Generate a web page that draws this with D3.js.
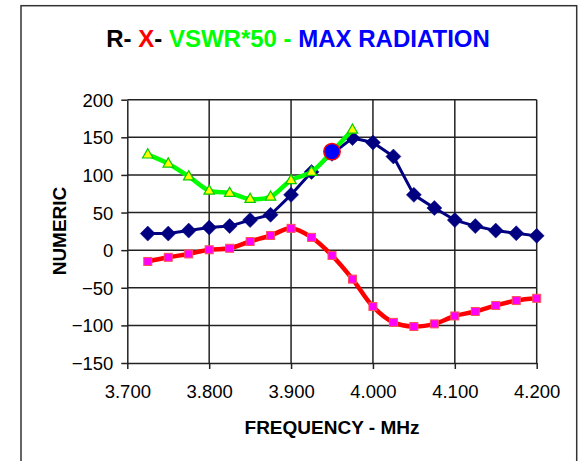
<!DOCTYPE html>
<html>
<head>
<meta charset="utf-8">
<script src="https://cdn.jsdelivr.net/npm/d3@7"></script>
<style>
html,body{margin:0;padding:0;background:#fff;}
svg{display:block;}
text{font-family:Arial,"Liberation Sans",sans-serif;}
</style>
</head>
<body>
<svg id="chart" width="582" height="461"></svg>
<script>
// ---- data ----
const frequencies = [3.725,3.75,3.775,3.8,3.825,3.85,3.875,3.9,3.925,3.95,3.975,4.0,4.025,4.05,4.075,4.1,4.125,4.15,4.175,4.2];
const seriesR = [22,22,26,30,32,40,47,73.5,104,128,149,143,124.5,73.5,56,40,32,26,22.5,19];
const seriesX = [-15,-9.5,-5,0.5,2.5,11.5,19.5,29,17,-7,-38.5,-75,-96,-101.5,-98,-87.5,-81.5,-73.5,-67,-64];
const vswrFreq = [3.725,3.75,3.775,3.8,3.825,3.85,3.875,3.9,3.925,3.95,3.975];
const vswr50 = [127,115,98,79,76,68,71,93,104,131,160];
const maxRadFreq = [3.95];
const maxRadValue = [131];
const xTicks = [3.7,3.8,3.9,4.0,4.1,4.2];
const yTicks = [-150,-100,-50,0,50,100,150,200];

const svg = d3.select("#chart");

// outer frame
svg.append("rect").attr("x",21).attr("y",5.7).attr("width",555.7).attr("height",470)
  .attr("fill","none").attr("stroke","#333").attr("stroke-width",1.5);

const x = d3.scaleLinear().domain([3.7,4.2]).range([127.3,536.7]);
const y = d3.scaleLinear().domain([-150,200]).range([363,99.7]);

// gridlines
const grid = svg.append("g");
grid.selectAll("line.h").data(yTicks.filter(d=>d>-150)).join("line")
  .attr("x1",x(3.7)).attr("x2",x(4.2)).attr("y1",d=>y(d)).attr("y2",d=>y(d))
  .attr("stroke","#222").attr("stroke-width",1.5);
grid.selectAll("line.v").data(xTicks.filter(d=>d>3.7)).join("line")
  .attr("x1",d=>x(d)).attr("x2",d=>x(d)).attr("y1",y(200)).attr("y2",y(-150))
  .attr("stroke","#222").attr("stroke-width",1.5);

// axes
const xAxis = d3.axisBottom(x).tickValues(xTicks).tickFormat(d3.format(".3f")).tickSize(6).tickSizeOuter(0);
const yAxis = d3.axisLeft(y).tickValues(yTicks).tickSize(6).tickSizeOuter(0);
const gx = svg.append("g").attr("transform",`translate(0,${y(-150)})`).call(xAxis);
const gy = svg.append("g").attr("transform",`translate(${x(3.7)},0)`).call(yAxis);
[gx,gy].forEach(g=>{
  g.select(".domain").attr("stroke","#222").attr("stroke-width",1.5);
  g.selectAll(".tick line").attr("stroke","#222").attr("stroke-width",1.5);
  g.selectAll(".tick text").attr("font-family","Arial, 'Liberation Sans', sans-serif")
    .attr("font-size",18.5).attr("fill","#000");
});
gx.selectAll(".tick text").attr("dy",null).attr("y",35);
gy.selectAll(".tick text").attr("x",-14).attr("dy","0.35em");

// lines
const pts = (xs,ys)=>xs.map((f,i)=>[f,ys[i]]);
const lineSmooth = d3.line().x(d=>x(d[0])).y(d=>y(d[1])).curve(d3.curveCatmullRom.alpha(0.5));
const lineStraight = d3.line().x(d=>x(d[0])).y(d=>y(d[1]));

const rData = pts(frequencies,seriesR);
const xData = pts(frequencies,seriesX);
const vData = pts(vswrFreq,vswr50);

// X series (red)
svg.append("path").attr("d",lineSmooth(xData)).attr("fill","none")
  .attr("stroke","#FF0000").attr("stroke-width",4.5).attr("stroke-linejoin","round");
svg.append("g").selectAll("rect").data(xData).join("rect")
  .attr("x",d=>x(d[0])-4).attr("y",d=>y(d[1])-4).attr("width",8).attr("height",8)
  .attr("fill","#FF00FF").attr("stroke","#FF5050").attr("stroke-width",1);

// R series (navy)
svg.append("path").attr("d",lineStraight(rData)).attr("fill","none")
  .attr("stroke","#000080").attr("stroke-width",3).attr("stroke-linejoin","round");
svg.append("g").selectAll("path").data(rData).join("path")
  .attr("d",d=>{const cx=x(d[0]),cy=y(d[1]),r=7.5;return `M${cx},${cy-r}L${cx+r},${cy}L${cx},${cy+r}L${cx-r},${cy}Z`;})
  .attr("fill","#000080").attr("stroke","#000080").attr("stroke-width",0.5);

// VSWR series (green)
svg.append("path").attr("d",lineSmooth(vData)).attr("fill","none")
  .attr("stroke","#00FF00").attr("stroke-width",4.5).attr("stroke-linejoin","round");
svg.append("g").selectAll("path").data(vData).join("path")
  .attr("d",d=>{const cx=x(d[0]),cy=y(d[1]);return `M${cx},${cy-5.8}L${cx+5.2},${cy+3.4}L${cx-5.2},${cy+3.4}Z`;})
  .attr("fill","#FFFF00").attr("stroke","#00CC00").attr("stroke-width",1.2);

// Max radiation
svg.append("g").selectAll("circle").data(pts(maxRadFreq,maxRadValue)).join("circle")
  .attr("cx",d=>x(d[0])).attr("cy",d=>y(d[1])).attr("r",8.2)
  .attr("fill","#0000FF").attr("stroke","#FF0000").attr("stroke-width",1.5);

// title
const title = svg.append("text").attr("x",298).attr("y",46.5).attr("text-anchor","middle")
  .attr("font-size",24).attr("font-weight","bold").attr("style","white-space:pre");
const parts = [["R- ","#000"],["X","#FF0000"],["- ","#000"],["VSWR*50 - ","#00FF00"],["MAX RADIATION","#0000FF"]];
parts.forEach(p=>title.append("tspan").text(p[0]).attr("fill",p[1]));

// axis titles
svg.append("text").attr("x",332).attr("y",434).attr("text-anchor","middle")
  .attr("font-size",19).attr("font-weight","bold").text("FREQUENCY - MHz");
svg.append("text").attr("transform","translate(66,231) rotate(-90)").attr("text-anchor","middle")
  .attr("font-size",19).attr("font-weight","bold").text("NUMERIC");
</script>
</body>
</html>
